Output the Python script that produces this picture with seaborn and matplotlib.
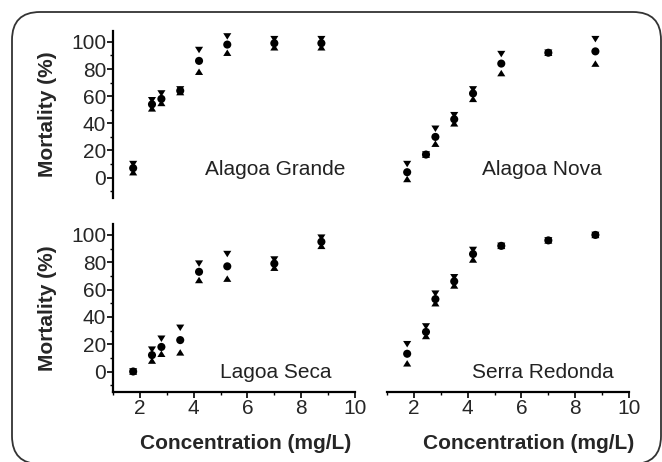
import pandas as pd
import numpy as np
import matplotlib
matplotlib.use('Agg')
import matplotlib.pyplot as plt
from matplotlib.patches import FancyBboxPatch
from matplotlib.ticker import MultipleLocator
import seaborn as sns

# concentrations (mg/L), same for every site
conc = [1.75, 2.45, 2.8, 3.5, 4.2, 5.25, 7.0, 8.75]

sites = ['Alagoa Grande', 'Alagoa Nova', 'Lagoa Seca', 'Serra Redonda']

# mortality (%) : mean, upper and lower bounds
ag_mean = [7, 54, 58, 64, 86, 98, 99, 99]
ag_upper = [10, 57, 62, 65, 94, 104, 102, 102]
ag_lower = [4, 51, 55, 63, 78, 92, 96, 96]

an_mean = [4, 17, 30, 43, 62, 84, 92, 93]
an_upper = [10, 17, 36, 46, 65, 91, 92, 102]
an_lower = [-1, 17, 25, 40, 58, 77, 92, 84]

ls_mean = [0, 12, 18, 23, 73, 77, 79, 95]
ls_upper = [0, 16, 24, 32, 79, 86, 82, 98]
ls_lower = [0, 8, 13, 14, 67, 68, 76, 92]

sr_mean = [13, 29, 53, 66, 86, 92, 96, 100]
sr_upper = [20, 33, 57, 69, 89, 92, 96, 100]
sr_lower = [6, 26, 50, 63, 82, 92, 96, 100]

series = {
    'Alagoa Grande': (ag_mean, ag_upper, ag_lower),
    'Alagoa Nova': (an_mean, an_upper, an_lower),
    'Lagoa Seca': (ls_mean, ls_upper, ls_lower),
    'Serra Redonda': (sr_mean, sr_upper, sr_lower),
}

rows = []
for site, (m, u, l) in series.items():
    for kind, vals in zip(['lower', 'upper', 'mean'], [l, u, m]):
        for c, v in zip(conc, vals):
            rows.append({'site': site, 'conc': c, 'kind': kind, 'mortality': v})
df = pd.DataFrame(rows)

sns.set_style('white')
plt.rcParams['font.family'] = ['Liberation Sans', 'DejaVu Sans']

fig = plt.figure(figsize=(6.62, 4.62), dpi=100)

W, H = 662, 462
boxes = {
    'Alagoa Grande': (113, 31, 242, 167),
    'Alagoa Nova': (387, 31, 242, 167),
    'Lagoa Seca': (113, 224, 242, 168),
    'Serra Redonda': (387, 224, 242, 168),
}
label_pos = {
    'Alagoa Grande': (0.38, 0.17),
    'Alagoa Nova': (0.393, 0.17),
    'Lagoa Seca': (0.442, 0.115),
    'Serra Redonda': (0.351, 0.115),
}
xlabel_x = {'Lagoa Seca': 0.55, 'Serra Redonda': 0.587}

# slightly flattened triangles, like the caps in the original figure
tri_down = [(-1, 0.8), (1, 0.8), (0, -0.8)]
tri_up = [(-1, -0.8), (1, -0.8), (0, 0.8)]
markers = {'mean': 'o', 'upper': tri_down, 'lower': tri_up}

for site in sites:
    x0, y0, w, h = boxes[site]
    ax = fig.add_axes([x0 / W, 1 - (y0 + h) / H, w / W, h / H])
    ax.patch.set_alpha(0)
    sub = df[df['site'] == site]
    sns.scatterplot(ax=ax, data=sub, x='conc', y='mortality', style='kind',
                    markers=markers, color='black', edgecolor='black',
                    linewidth=0, s=34, legend=False)
    ax.set_xlim(1, 10)
    ax.set_ylim(-15, 108)
    ax.xaxis.set_major_locator(MultipleLocator(2))
    ax.xaxis.set_minor_locator(MultipleLocator(1))
    ax.yaxis.set_major_locator(MultipleLocator(20))
    ax.yaxis.set_minor_locator(MultipleLocator(10))
    ax.tick_params(which='major', direction='out', length=4, width=1.2,
                   labelsize=15, color='black', pad=1)
    ax.tick_params(which='minor', direction='out', length=2.5, width=1.0,
                   color='black')
    left = site in ('Alagoa Grande', 'Lagoa Seca')
    bottom = site in ('Lagoa Seca', 'Serra Redonda')
    for side in ['top', 'right']:
        ax.spines[side].set_visible(False)
    ax.spines['left'].set_visible(left)
    ax.spines['bottom'].set_visible(bottom)
    for side in ['left', 'bottom']:
        ax.spines[side].set_linewidth(1.6)
        ax.spines[side].set_color('black')
    if left:
        ax.set_ylabel('Mortality (%)', fontsize=15, fontweight='bold', labelpad=10)
        ax.yaxis.set_ticks_position('left')
    else:
        ax.set_ylabel('')
        ax.tick_params(axis='y', which='both', left=False, labelleft=False)
    if bottom:
        ax.set_xlabel('Concentration (mg/L)', fontsize=15, fontweight='bold')
        ax.xaxis.set_label_coords(xlabel_x[site], -0.25)
        ax.xaxis.set_ticks_position('bottom')
    else:
        ax.set_xlabel('')
        ax.tick_params(axis='x', which='both', bottom=False, labelbottom=False)
    tx, ty = label_pos[site]
    ax.text(tx, ty, site, transform=ax.transAxes, fontsize=15,
            ha='left', va='center', color='#222222')

# rounded frame around the whole figure
frame = FancyBboxPatch((12, -2), 649, 452,
                       boxstyle='round,pad=0,rounding_size=28',
                       transform=None, fill=False, edgecolor='#333333',
                       linewidth=1.3)
fig.add_artist(frame)

fig.savefig('out.png', dpi=100)
